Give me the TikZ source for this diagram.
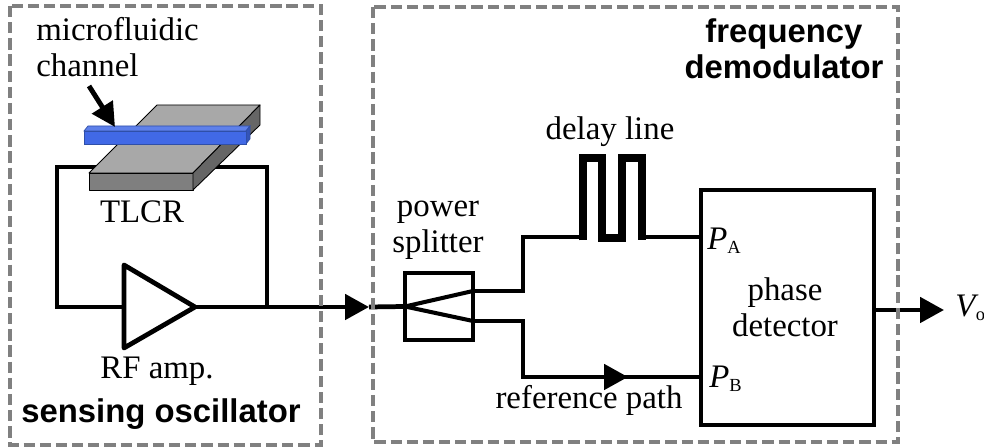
\documentclass[tikz,border=0pt]{standalone}
\usepackage{fontspec}
\setmainfont{Liberation Serif}
\setsansfont{Liberation Sans}
\usetikzlibrary{arrows.meta}
\definecolor{framegray}{HTML}{808080}
\definecolor{topgray}{HTML}{A8A8A8}
\definecolor{frontgray}{HTML}{7F7F7F}
\definecolor{sidegray}{HTML}{666666}
\definecolor{chanblue}{HTML}{4169E6}
\definecolor{chanedge}{HTML}{2F4FA8}
\def\portlabel#1#2{\textit{#1}{\fontsize{10.5}{10.5}\selectfont\raisebox{-2.2pt}{#2}}}
\tikzset{
	wire/.style={line width=2.7pt,line join=miter},
	frame/.style={draw=framegray,line width=2.6pt,dash pattern=on 6.4pt off 2.8pt},
	block/.style={draw,line width=2.7pt,rectangle,inner sep=0pt,outer sep=0pt},
	solid tip/.style={-{Triangle[length=13.6pt,width=14.2pt]}},
	serif label/.style={font=\fontsize{18.7}{20.6}\selectfont,inner sep=0pt,anchor=base,align=center},
	bold label/.style={font=\fontsize{18.7}{20.9}\selectfont\sffamily\bfseries,inner sep=0pt,anchor=base,align=center},
	solid edge/.style={draw=black,line width=0.5pt,line join=round}
}

\begin{document}
\begin{tikzpicture}[x=0.02cm,y=-0.02cm]
	\useasboundingbox (0,0) rectangle (984,448);

	%%%%% oscillator %%%%%
	\coordinate (ampa) at (124,265);
	\coordinate (ampb) at (124,348);
	\coordinate (ampout) at (195,307);
	\coordinate (ampin) at (124,307);
	\coordinate (loopa) at (57,307);
	\coordinate (loopb) at (57,167);
	\coordinate (loopc) at (267,167);
	\coordinate (loopd) at (267,307);
	\coordinate (outtip) at (369,307);

	\draw[wire] (ampin) -- (loopa) -- (loopb) -- (loopc) -- (loopd);
	\draw[wire,line join=round] (ampa) -- (ampout) -- (ampb) -- cycle;
	\draw[wire,solid tip] (ampout) -- (outtip);

	% resonator and channel
	\draw[solid edge,fill=topgray] (157,105) -- (260,105) -- (193,173) -- (89,173) -- cycle;
	\draw[solid edge,fill=frontgray] (89,173) rectangle (193,190);
	\draw[solid edge,fill=sidegray] (193,173) -- (260,105) -- (260,125) -- (193,190) -- cycle;
	\draw[chanedge,line width=0.4pt,fill=chanblue!85!white] (84,131) -- (88,126) -- (250,126) -- (246,131) -- cycle;
	\draw[chanedge,line width=0.4pt,fill=chanblue!80!black] (246,131) -- (250,126) -- (250,139) -- (246,144) -- cycle;
	\draw[chanedge,line width=0.4pt,fill=chanblue] (84,131) rectangle (246,144);
	\coordinate (chantail) at (89,86);
	\coordinate (chantip) at (115,127);
	\draw[line width=2.8pt,-{Triangle[length=13.5pt,width=13.5pt]}] (chantail) -- (chantip);

	\node[serif label,align=left,anchor=base west] (chanlabel) at (36,77) {microfluidic\\channel};
	\node[serif label] (tlcrlabel) at (142,223) {TLCR};
	\node[serif label] (amplabel) at (157,379) {RF amp.};
	\node[bold label] (osclabel) at (161,423) {sensing oscillator};

	%%%%% demodulator %%%%%
	\node[block,minimum width=1.36cm,minimum height=1.34cm] (split) at (439,306.5) {};
	\node[block,minimum width=3.46cm,minimum height=4.7cm] (detector) at (787.5,307.5) {};

	\coordinate (splita) at (473,291);
	\coordinate (splitb) at (473,321);
	\coordinate (upbend) at (523,291);
	\coordinate (uptop) at (523,237);
	\coordinate (lowbend) at (523,321);
	\coordinate (lowbot) at (523,377);
	\coordinate (reftip) at (628,377);
	\coordinate (porta) at (701,237);
	\coordinate (portb) at (701,377);
	\coordinate (detout) at (874,310);
	\coordinate (vtip) at (944,310);

	\draw[wire] (outtip) -- (split.west);
	\draw[line width=2.3pt,line join=round] (splita) -- (split.west) -- (splitb);
	\draw[wire] (splita) -- (upbend) -- (uptop) -- (583,237);
	\draw[wire] (642,237) -- (porta);
	\draw[wire] (splitb) -- (lowbend) -- (lowbot) -- (reftip);
	\draw[wire,solid tip] (lowbot) -- (reftip);
	\draw[wire] (reftip) -- (portb);
	\draw[wire,solid tip] (detout) -- (vtip);

	% meander of the delay
	\draw[line width=5pt,line join=miter] (583,240.5) -- (583,158) -- (602,158) -- (602,238) -- (622,238) -- (622,158) -- (642,158) -- (642,240.5);

	\node[serif label] (powerlabel) at (438,253) {power\\splitter};
	\node[serif label] (delaylabel) at (610,140) {delay line};
	\node[serif label] (reflabel) at (589,409) {reference path};
	\node[serif label] (detlabel) at (785,337) {phase\\detector};
	\node[serif label,anchor=base west] (palabel) at (707,250) {\portlabel{P}{A}};
	\node[serif label,anchor=base west] (pblabel) at (709,388) {\portlabel{P}{B}};
	\node[serif label,anchor=base west] (volabel) at (955,317) {\portlabel{V}{\kern-1.5pt o}};
	\node[bold label] (demlabel) at (784,79) {frequency\\demodulator};

	%%%%% dashed groups %%%%%
	\draw[frame] (10,6) rectangle (321,445);
	\draw[frame] (373,7) rectangle (898,442);
\end{tikzpicture}
\end{document}
